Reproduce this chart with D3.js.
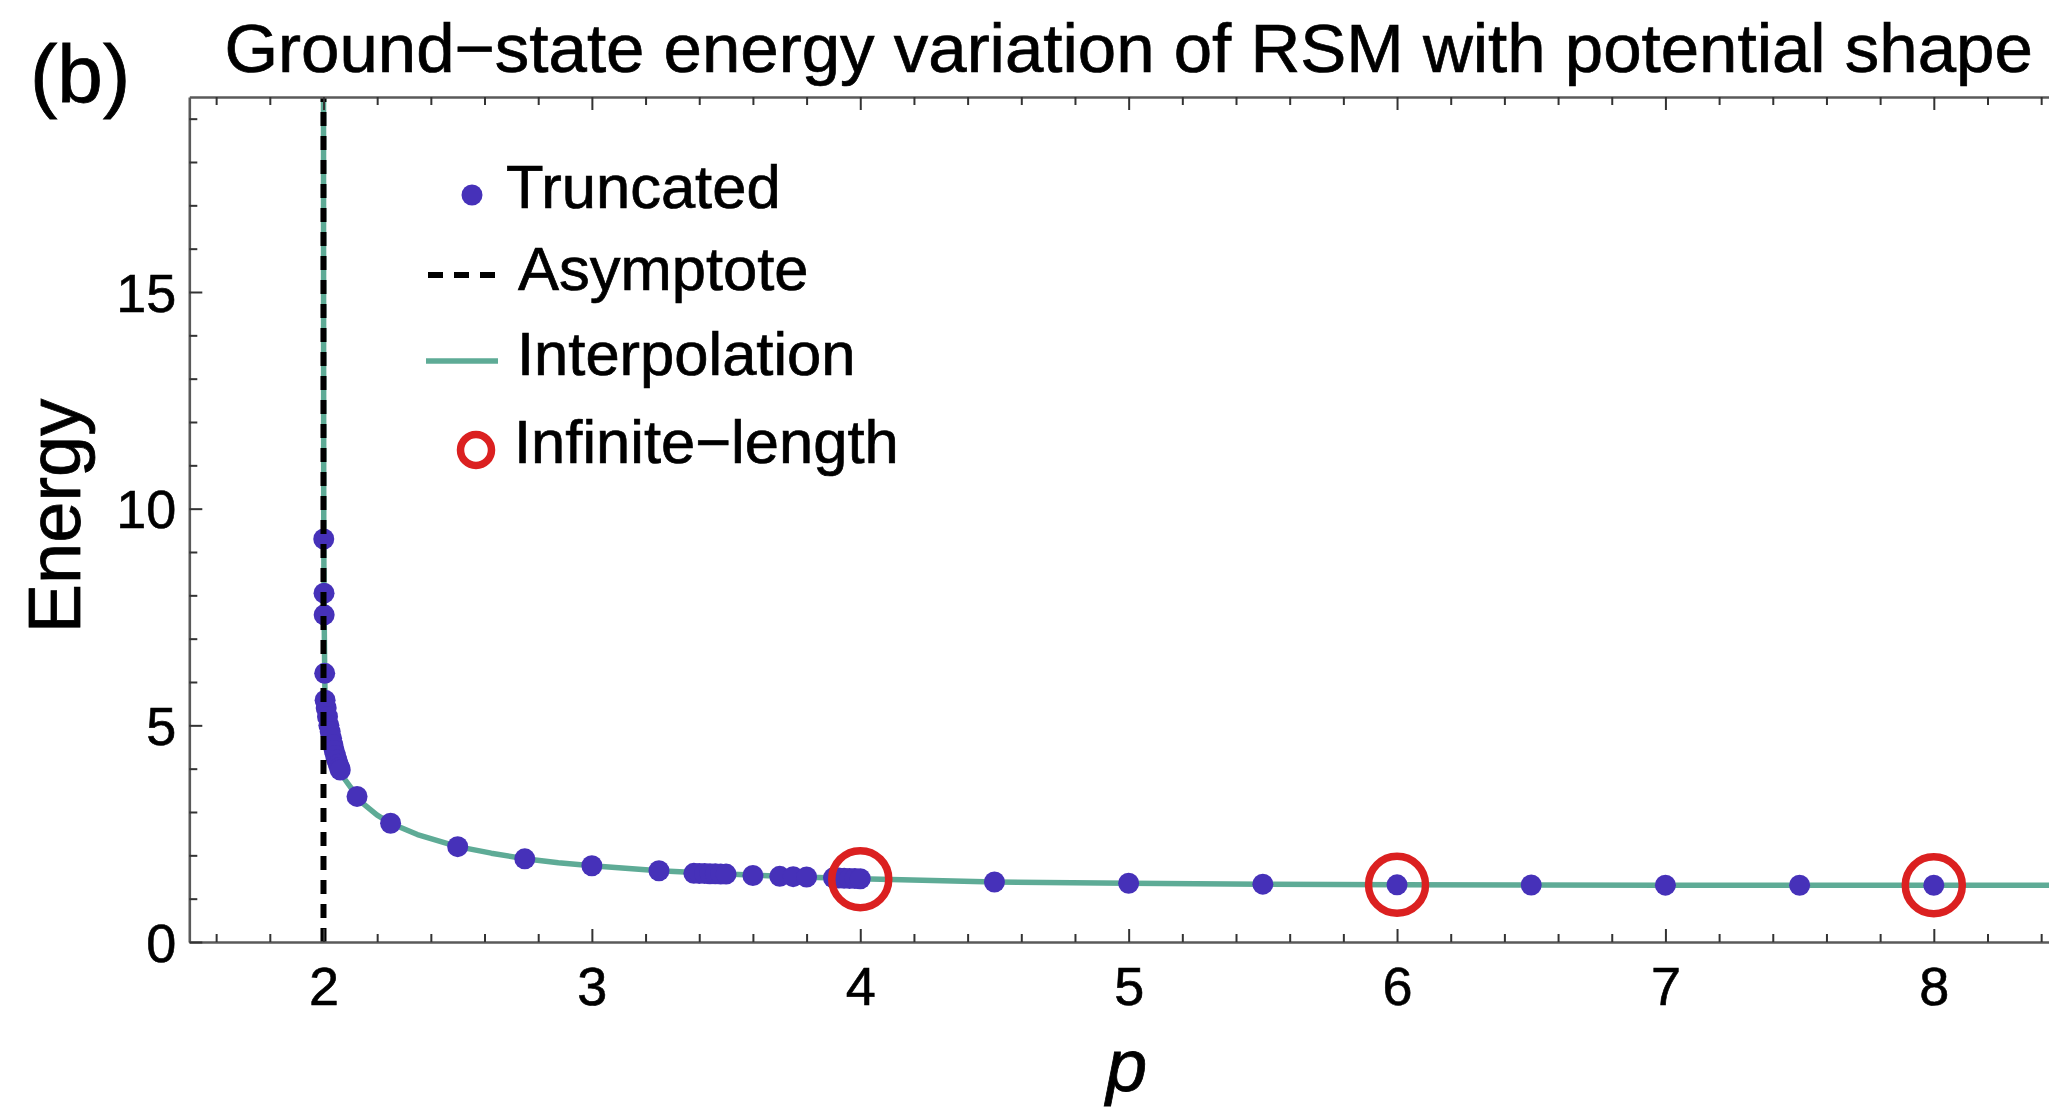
<!DOCTYPE html>
<html>
<head>
<meta charset="utf-8">
<script src="https://cdn.jsdelivr.net/npm/d3@7"></script>
<style>
  html, body { margin: 0; padding: 0; background: #fff; overflow: hidden; }
  svg { display: block; font-family: "Liberation Sans", Arial, Helvetica, sans-serif; }
</style>
</head>
<body>
<svg id="chart" width="2049" height="1110"></svg>
<script>
// Truncated-model ground-state energies
const truncP = [2.001, 2.002, 2.0025, 2.0045, 2.006, 2.01, 2.015, 2.02, 2.025, 2.03, 2.035, 2.04, 2.045, 2.05, 2.055, 2.06, 2.0625,
                2.125, 2.25, 2.5, 2.75, 3.0, 3.25, 3.38, 3.4, 3.42, 3.44, 3.46, 3.48, 3.5, 3.6, 3.7, 3.75, 3.8,
                3.9, 3.92, 3.94, 3.96, 3.98, 4.0, 4.5, 5.0, 5.5, 6.0, 6.5, 7.0, 7.5, 8.0];
const truncE = [9.3, 8.05, 7.55, 6.2, 5.58, 5.4, 5.2, 5.0, 4.85, 4.7, 4.55, 4.42, 4.3, 4.2, 4.1, 4.02, 3.97,
                3.36, 2.74, 2.2, 1.92, 1.76, 1.645, 1.585, 1.582, 1.579, 1.576, 1.573, 1.57, 1.567, 1.535, 1.515, 1.508, 1.5,
                1.48, 1.476, 1.472, 1.468, 1.464, 1.46, 1.385, 1.355, 1.335, 1.32, 1.315, 1.312, 1.31, 1.31];

// Interpolating curve
const interpP = [2.0001, 2.0003, 2.0006, 2.001, 2.002, 2.0025, 2.0045, 2.006, 2.01, 2.015, 2.02, 2.025, 2.03, 2.035, 2.04,
                 2.045, 2.05, 2.055, 2.06, 2.0625, 2.08, 2.1, 2.125, 2.15, 2.2, 2.25, 2.35, 2.5, 2.625, 2.75, 2.875,
                 3.0, 3.25, 3.5, 3.75, 4.0, 4.5, 5.0, 5.5, 6.0, 6.5, 7.0, 7.5, 8.0, 8.5];
const interpE = [19.5, 15.5, 12.2, 9.3, 8.05, 7.55, 6.2, 5.58, 5.4, 5.2, 5.0, 4.85, 4.7, 4.55, 4.42,
                 4.3, 4.2, 4.1, 4.02, 3.97, 3.75, 3.58, 3.36, 3.18, 2.93, 2.74, 2.48, 2.2, 2.05, 1.92, 1.83,
                 1.76, 1.645, 1.567, 1.508, 1.46, 1.385, 1.355, 1.335, 1.32, 1.315, 1.312, 1.31, 1.31, 1.31];

// Infinite-length results
const infP = [4, 6, 8];
const infE = [1.45, 1.32, 1.31];

// Asymptote position
const asymptoteP = 2;

// Tick labels
const xTickValues = [2, 3, 4, 5, 6, 7, 8];
const yTickValues = [0, 5, 10, 15];

const legendLabels = ["Truncated", "Asymptote", "Interpolation", "Infinite\u2212length"];

const COL_DOT = "#4631b9";
const COL_LINE = "#5eab96";
const COL_RED = "#db2020";
const COL_AXIS = "#5a5a5a";
const INK = "#000";

const svg = d3.select("#chart");

const x = d3.scaleLinear().domain([1.5, 8.5]).range([189.3, 2068]);
const y = d3.scaleLinear().domain([0, 19.5]).range([942, 97]);

const plot = svg.append("g");

// clip to the frame
svg.append("clipPath").attr("id", "frameClip")
  .append("rect").attr("x", x(1.5)).attr("y", y(19.5)).attr("width", x(8.5) - x(1.5)).attr("height", y(0) - y(19.5));

const inner = plot.append("g").attr("clip-path", "url(#frameClip)");

// interpolation curve
const interpData = interpP.map((p, i) => [p, interpE[i]]);
inner.append("path")
  .datum(interpData)
  .attr("fill", "none")
  .attr("stroke", COL_LINE)
  .attr("stroke-width", 5.5)
  .attr("stroke-linejoin", "round")
  .attr("d", d3.line().x(d => x(d[0])).y(d => y(d[1])).curve(d3.curveLinear));

// truncated points
const truncData = truncP.map((p, i) => [p, truncE[i]]);
inner.append("g").selectAll("circle")
  .data(truncData).join("circle")
  .attr("cx", d => x(d[0])).attr("cy", d => y(d[1]))
  .attr("r", 10.5).attr("fill", COL_DOT);

// infinite-length rings
const infData = infP.map((p, i) => [p, infE[i]]);
inner.append("g").selectAll("circle")
  .data(infData).join("circle")
  .attr("cx", d => x(d[0])).attr("cy", d => y(d[1]))
  .attr("r", 28.5).attr("fill", "none")
  .attr("stroke", COL_RED).attr("stroke-width", 7.5);

// asymptote
inner.append("line")
  .attr("x1", x(asymptoteP)).attr("x2", x(asymptoteP))
  .attr("y1", y(0)).attr("y2", y(19.5))
  .attr("stroke", "#000").attr("stroke-width", 6)
  .attr("stroke-dasharray", "14,10");

// axes: major ticks carry labels, minor ticks are drawn separately
const fmt = d3.format("d");
const xMinor = d3.range(16, 86, 2).map(v => v / 10).filter(v => !xTickValues.includes(v));
const yMinor = d3.range(1, 20).filter(v => !yTickValues.includes(v));

function styleAxis(g) {
  g.select(".domain").attr("stroke", COL_AXIS).attr("stroke-width", 2.6);
  g.selectAll(".tick line").attr("stroke", "#333").attr("stroke-width", 2);
  g.selectAll(".tick text").attr("fill", INK).style("font-size", "54px")
   .style("font-family", '"Liberation Sans", Arial, Helvetica, sans-serif')
   .attr("stroke", INK).attr("stroke-width", 0.6);
}

// bottom
const bottomMajor = plot.append("g").attr("transform", `translate(0,${y(0)})`)
  .call(d3.axisBottom(x).tickValues(xTickValues).tickFormat(fmt).tickSizeInner(-13).tickSizeOuter(0).tickPadding(26));
styleAxis(bottomMajor);
bottomMajor.selectAll(".tick text").attr("dy", null).attr("y", 63);
const bottomMinor = plot.append("g").attr("transform", `translate(0,${y(0)})`)
  .call(d3.axisBottom(x).tickValues(xMinor).tickFormat("").tickSizeInner(-8).tickSizeOuter(0));
styleAxis(bottomMinor);
bottomMinor.select(".domain").remove();

// top
const topMajor = plot.append("g").attr("transform", `translate(0,${y(19.5)})`)
  .call(d3.axisTop(x).tickValues(xTickValues).tickFormat("").tickSizeInner(-13).tickSizeOuter(0));
styleAxis(topMajor);
const topMinor = plot.append("g").attr("transform", `translate(0,${y(19.5)})`)
  .call(d3.axisTop(x).tickValues(xMinor).tickFormat("").tickSizeInner(-8).tickSizeOuter(0));
styleAxis(topMinor);
topMinor.select(".domain").remove();

// left
const leftMajor = plot.append("g").attr("transform", `translate(${x(1.5)},0)`)
  .call(d3.axisLeft(y).tickValues(yTickValues).tickFormat(fmt).tickSizeInner(-13).tickSizeOuter(0).tickPadding(13));
styleAxis(leftMajor);
leftMajor.selectAll(".tick text").attr("dy", null).attr("dominant-baseline", null).attr("y", 19).attr("x", -13);
const leftMinor = plot.append("g").attr("transform", `translate(${x(1.5)},0)`)
  .call(d3.axisLeft(y).tickValues(yMinor).tickFormat("").tickSizeInner(-8).tickSizeOuter(0));
styleAxis(leftMinor);
leftMinor.select(".domain").remove();

// text helper: slightly heavier strokes for the text
function ink(sel, w) { return sel.attr("fill", INK).attr("stroke", INK).attr("stroke-width", w); }

// axis labels
ink(svg.append("text")
  .attr("transform", `translate(80,516) rotate(-90)`)
  .attr("text-anchor", "middle")
  .style("font-size", "74px")
  .text("Energy"), 0.8);

ink(svg.append("text")
  .attr("x", (x(1.5) + x(8.5)) / 2 - 2).attr("y", 1091)
  .attr("text-anchor", "middle")
  .style("font-size", "74px").style("font-style", "italic")
  .text("p"), 0.8);

// title and panel tag
ink(svg.append("text")
  .attr("x", (x(1.5) + x(8.5)) / 2).attr("y", 72)
  .attr("text-anchor", "middle")
  .style("font-size", "69px")
  .text("Ground\u2212state energy variation of RSM with potential shape"), 0.7);

ink(svg.append("text")
  .attr("x", 30).attr("y", 102)
  .style("font-size", "82px")
  .text("(b)"), 0.8);

// legend
const legend = svg.append("g");
legend.append("circle").attr("cx", 472).attr("cy", 195).attr("r", 10.5).attr("fill", COL_DOT);
legend.append("line").attr("x1", 428).attr("x2", 495).attr("y1", 275).attr("y2", 275)
  .attr("stroke", "#000").attr("stroke-width", 6).attr("stroke-dasharray", "15,11");
legend.append("line").attr("x1", 426).attr("x2", 498).attr("y1", 361).attr("y2", 361)
  .attr("stroke", COL_LINE).attr("stroke-width", 5.5);
legend.append("circle").attr("cx", 476).attr("cy", 450).attr("r", 15.5).attr("fill", "none")
  .attr("stroke", COL_RED).attr("stroke-width", 7.5);

const legendPos = [[506, 208], [518, 290], [517, 375], [514, 463]];
ink(legend.selectAll("text.lg")
  .data(legendLabels).join("text")
  .attr("class", "lg")
  .attr("x", (d, i) => legendPos[i][0]).attr("y", (d, i) => legendPos[i][1])
  .style("font-size", "61.5px")
  .text(d => d), 0.7);
</script>
</body>
</html>
